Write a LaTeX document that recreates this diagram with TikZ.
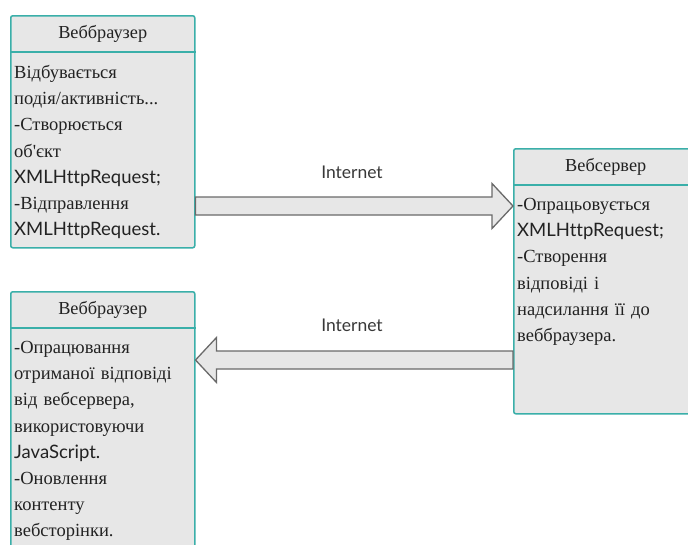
\documentclass[tikz,border=0pt]{standalone}
\usepackage{fontspec}
\setmainfont{Liberation Serif}
\newfontfamily\plainserif{Liberation Serif}
\newfontfamily\latofont[Ligatures=NoCommon]{Lato}
\usetikzlibrary{calc}
\definecolor{tealb}{HTML}{3AAFA9}
\definecolor{boxfill}{HTML}{E7E7E7}
\definecolor{arrline}{HTML}{6A6A6A}
\definecolor{txt}{HTML}{222222}
\tikzset{
  box/.style={draw=tealb, fill=boxfill, line width=1.5pt, rounded corners=2pt, anchor=north west, minimum width=184pt, inner sep=0pt},
  divider/.style={draw=tealb, line width=1.5pt},
  head/.style={font=\fontsize{18.3}{22}\selectfont, text=txt, inner sep=0pt},
  body/.style={font=\fontsize{18.5}{26.2}\selectfont, text=txt, inner sep=0pt, anchor=north west, align=left, text width=180pt},
  blockarr/.style={draw=arrline, fill=boxfill, line width=1.3pt, line join=miter},
  netlbl/.style={font=\latofont\fontsize{17.5}{21}\selectfont, text=txt!90, inner sep=0pt}
}
\begin{document}
\begin{tikzpicture}[x=1pt,y=-1pt]
\clip (0,0) rectangle (688,544);
\fill[white] (0,0) rectangle (688,544);
% boxes
\node[box, minimum height=232pt] (b1) at (10,15) {};
\node[box, minimum height=265pt] (b2) at (513,148) {};
\node[box, minimum height=270pt] (b3) at (10,291) {};
\draw[divider] ($(b1.north west)+(0,37)$) -- ($(b1.north east)+(0,37)$);
\draw[divider] ($(b2.north west)+(0,37)$) -- ($(b2.north east)+(0,37)$);
\draw[divider] ($(b3.north west)+(0,37)$) -- ($(b3.north east)+(0,37)$);
% headers
\node[head] (h1) at ($(b1.north)+(0,19)$) {Веббраузер};
\node[head] (h2) at ($(b2.north)+(0,19)$) {Вебсервер};
\node[head] (h3) at ($(b3.north)+(0,19)$) {Веббраузер};
% bodies
\node[body] (t1) at ($(b1.north west)+(4,50)$) {Відбувається\\подія/активність...\\-Створюється\\{\plainserif об'єкт}\\{\latofont XMLHttpRequest;}\\-Відправлення\\{\latofont XMLHttpRequest.}};
\node[body] (t2) at ($(b2.north west)+(4,50)$) {-Опрацьовується\\{\latofont XMLHttpRequest;}\\-Створення\\відповіді і\\надсилання її до\\веббраузера.};
\node[body] (t3) at ($(b3.north west)+(4,50)$) {-Опрацювання\\отриманої відповіді\\від вебсервера,\\використовуючи\\{\latofont JavaScript.}\\-Оновлення\\контенту\\вебсторінки.};
% arrows
\coordinate (a1s) at ($(b1.north east)+(0,191)$);
\coordinate (a1e) at ($(b2.north west)+(0,58)$);
\draw[blockarr] ($(a1s)+(0,-9)$) -- ($(a1e)+(-21,-9)$) -- ($(a1e)+(-21,-22.5)$) -- (a1e) -- ($(a1e)+(-21,22.5)$) -- ($(a1e)+(-21,9)$) -- ($(a1s)+(0,9)$) -- cycle;
\coordinate (a2s) at ($(b2.north west)+(0,212)$);
\coordinate (a2e) at ($(b3.north east)+(0,69)$);
\draw[blockarr] ($(a2s)+(0,-9)$) -- ($(a2e)+(21,-9)$) -- ($(a2e)+(21,-22.5)$) -- (a2e) -- ($(a2e)+(21,22.5)$) -- ($(a2e)+(21,9)$) -- ($(a2s)+(0,9)$) -- cycle;
% labels
\node[netlbl] (l1) at (352,172) {Internet};
\node[netlbl] (l2) at (352,325) {Internet};
\end{tikzpicture}
\end{document}
